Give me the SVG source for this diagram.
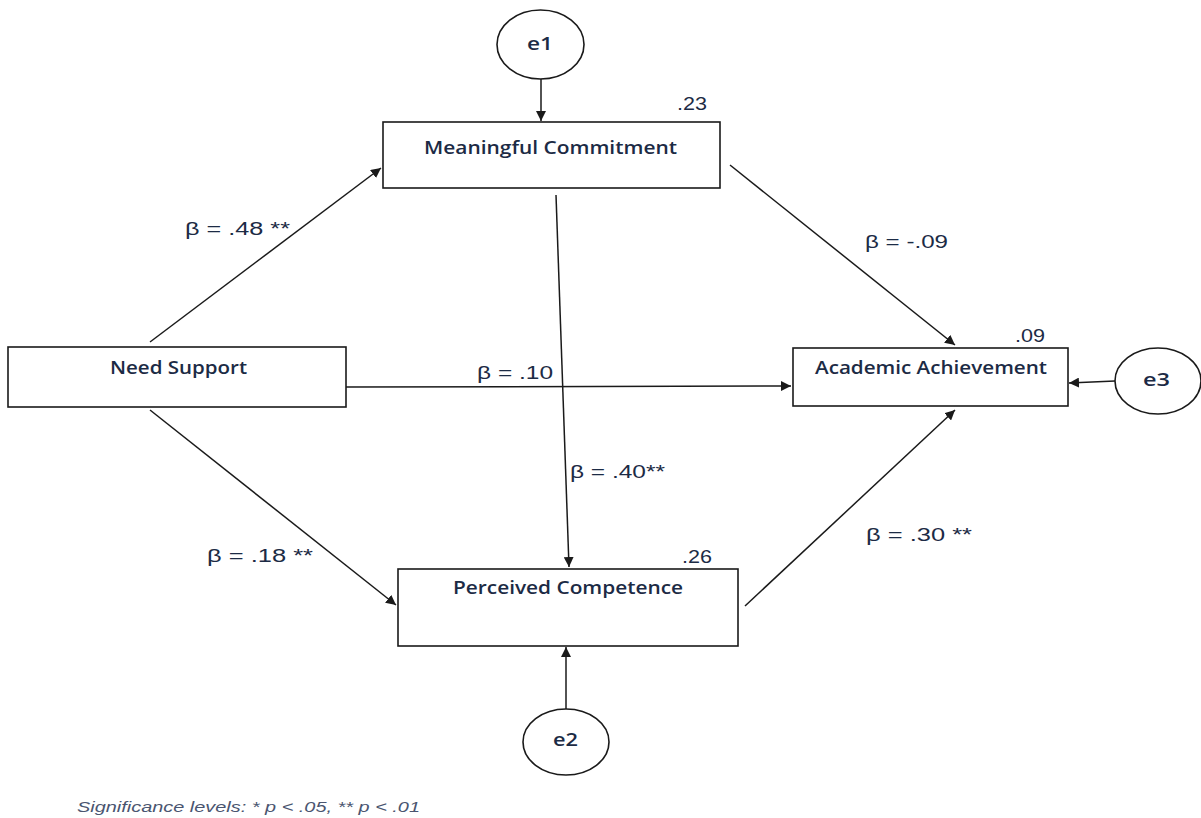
<svg xmlns="http://www.w3.org/2000/svg" width="1201" height="818" viewBox="0 0 1201 818">
<style>
.box{fill:#fff;stroke:#1a1a1a;stroke-width:1.6}
.err{fill:#fff;stroke:#1a1a1a;stroke-width:1.6}
.nt{font-family:"Open Sans","Liberation Sans",sans-serif;font-weight:600;font-size:18px;fill:#1c2b45;text-anchor:start}
.lb{font-family:"Liberation Sans",Arial,sans-serif;font-size:18px;fill:#1c2b45}
.edge{stroke:#1a1a1a;stroke-width:1.5;fill:none;marker-end:url(#ah)}
.sig{font-family:"Liberation Sans",Arial,sans-serif;font-style:italic;font-size:14px;fill:#4a5570}
</style>
<defs>
<marker id="ah" viewBox="0 0 10 10" refX="10" refY="5" markerWidth="10" markerHeight="10" markerUnits="userSpaceOnUse" orient="auto">
<path d="M0,0 L10,5 L0,10 z" fill="#1a1a1a"/>
</marker>
</defs>
<g id="connectors">
<line class="edge" x1="541" y1="79" x2="541" y2="121"/>
<line class="edge" x1="150" y1="342" x2="381" y2="168"/>
<line class="edge" x1="346" y1="387" x2="791" y2="386"/>
<line class="edge" x1="150" y1="410" x2="396" y2="605"/>
<line class="edge" x1="556" y1="195" x2="569" y2="567"/>
<line class="edge" x1="730" y1="165" x2="955" y2="345"/>
<line class="edge" x1="745" y1="606" x2="955" y2="410"/>
<line class="edge" x1="1115" y1="381" x2="1069" y2="383"/>
<line class="edge" x1="566" y1="709" x2="566" y2="647"/>
</g>
<g id="e1"><ellipse class="err" cx="540.5" cy="44.5" rx="43.5" ry="34.5"/><text class="nt" x="527" y="50" textLength="26" lengthAdjust="spacingAndGlyphs">e1</text></g>
<g id="meaningful-commitment"><rect class="box" x="383" y="122" width="337" height="66"/><text class="nt" x="424" y="154" textLength="253" lengthAdjust="spacingAndGlyphs">Meaningful Commitment</text></g>
<g id="need-support"><rect class="box" x="8" y="347" width="338" height="60"/><text class="nt" x="110" y="374" textLength="137" lengthAdjust="spacingAndGlyphs">Need Support</text></g>
<g id="academic-achievement"><rect class="box" x="793" y="348" width="275" height="58"/><text class="nt" x="815" y="374" textLength="232" lengthAdjust="spacingAndGlyphs">Academic Achievement</text></g>
<g id="perceived-competence"><rect class="box" x="398" y="569" width="340" height="77"/><text class="nt" x="453" y="594" textLength="230" lengthAdjust="spacingAndGlyphs">Perceived Competence</text></g>
<g id="e3"><ellipse class="err" cx="1158" cy="381" rx="43" ry="33"/><text class="nt" x="1143" y="386" textLength="27" lengthAdjust="spacingAndGlyphs">e3</text></g>
<g id="e2"><ellipse class="err" cx="566" cy="742" rx="43" ry="33"/><text class="nt" x="553" y="746" textLength="25" lengthAdjust="spacingAndGlyphs">e2</text></g>
<g id="r2">
<text class="lb" x="677" y="110" textLength="30" lengthAdjust="spacingAndGlyphs">.23</text>
<text class="lb" x="1015" y="342" textLength="30" lengthAdjust="spacingAndGlyphs">.09</text>
<text class="lb" x="682" y="563" textLength="30" lengthAdjust="spacingAndGlyphs">.26</text>
</g>
<g id="labels">
<text class="lb" x="185" y="235" textLength="105" lengthAdjust="spacingAndGlyphs">β = .48 **</text>
<text class="lb" x="477" y="379" textLength="76" lengthAdjust="spacingAndGlyphs">β = .10</text>
<text class="lb" x="570" y="478" textLength="95" lengthAdjust="spacingAndGlyphs">β = .40**</text>
<text class="lb" x="865" y="248" textLength="83" lengthAdjust="spacingAndGlyphs">β = -.09</text>
<text class="lb" x="207" y="562" textLength="106" lengthAdjust="spacingAndGlyphs">β = .18 **</text>
<text class="lb" x="866" y="541" textLength="106" lengthAdjust="spacingAndGlyphs">β = .30 **</text>
</g>
<text class="sig" x="77" y="812" textLength="343" lengthAdjust="spacingAndGlyphs">Significance levels: * p &lt; .05, ** p &lt; .01</text>
</svg>
